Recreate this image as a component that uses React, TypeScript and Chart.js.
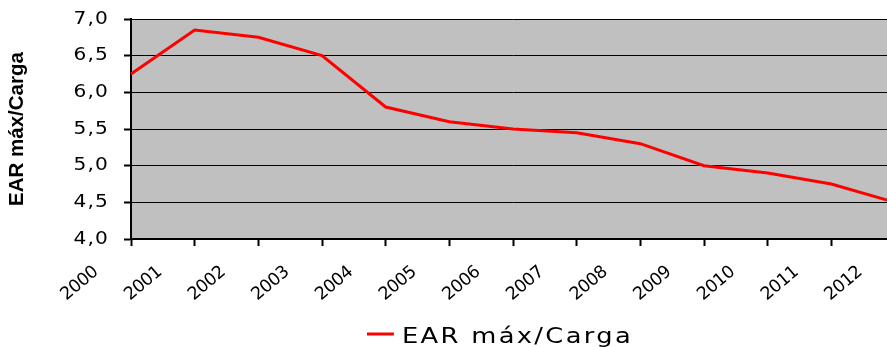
import React, { useEffect, useRef } from 'react';
import { Chart, registerables } from 'chart.js';

Chart.register(...registerables);

// Series data
const years = ['2000', '2001', '2002', '2003', '2004', '2005', '2006', '2007', '2008', '2009', '2010', '2011', '2012'];
const earMaxCarga = [6.25, 6.85, 6.75, 6.5, 5.8, 5.6, 5.5, 5.45, 5.3, 5.0, 4.9, 4.75, 4.5];
const seriesLabel = 'EAR máx/Carga';
const yAxisTitle = 'EAR máx/Carga';

// Value axis range
const yMin = 4;
const yMax = 7;
const yStep = 0.5;

const CANVAS_W = 910;
const CANVAS_H = 347;

// Grey plot area behind the line
const plotBackground = {
  id: 'plotBackground',
  beforeDraw(chart: any) {
    const { ctx, chartArea: a } = chart;
    ctx.save();
    ctx.fillStyle = '#C0C0C0';
    ctx.fillRect(a.left, a.top, a.right - a.left, a.bottom - a.top);
    ctx.restore();
  },
};

interface LabelStyle {
  spacing: string;
  stretch: number;
  dx: number;
  dy: number;
}

// Wrap a scale's label drawing: letter spacing, a horizontal stretch around
// the label anchor column, and a small shift away from the axis
function styleLabels(scale: any, style: LabelStyle, anchorX: () => number) {
  if (!scale || scale.__styled) return;
  const original = scale.drawLabels.bind(scale);
  scale.drawLabels = (...args: any[]) => {
    const ctx = scale.ctx;
    ctx.save();
    ctx.letterSpacing = style.spacing;
    const ax = anchorX();
    ctx.translate(ax + style.dx, style.dy);
    ctx.scale(style.stretch, 1);
    ctx.translate(-ax, 0);
    try {
      original(...args);
    } finally {
      ctx.restore();
    }
  };
  scale.__styled = true;
}

const textStyling = {
  id: 'textStyling',
  beforeDraw(chart: any) {
    const y = chart.scales.y;
    styleLabels(
      y,
      { spacing: '1px', stretch: 1.12, dx: -15, dy: 0 },
      () => y.right - y.options.grid.tickLength - y.options.ticks.padding
    );
    styleLabels(chart.scales.x, { spacing: '-0.5px', stretch: 1, dx: 0, dy: 16 }, () => 0);
  },
};

// Legend entry drawn under the axis labels
const seriesKey = {
  id: 'seriesKey',
  afterDraw(chart: any, _args: any, opts: any) {
    const ds = chart.data.datasets[0];
    const { ctx } = chart;
    ctx.save();
    ctx.font = '22px "DejaVu Sans"';
    ctx.letterSpacing = '2px';
    const textW = ctx.measureText(ds.label).width * opts.stretch;
    const swatch = 27;
    const gap = 8;
    const left = opts.centerX - (swatch + gap + textW) / 2;
    ctx.strokeStyle = ds.borderColor;
    ctx.lineWidth = 3;
    ctx.beginPath();
    ctx.moveTo(left, opts.lineY);
    ctx.lineTo(left + swatch, opts.lineY);
    ctx.stroke();
    ctx.fillStyle = '#000';
    ctx.textBaseline = 'alphabetic';
    ctx.textAlign = 'left';
    ctx.translate(left + swatch + gap, opts.baseline);
    ctx.scale(opts.stretch, 1);
    ctx.fillText(ds.label, 0, 0);
    ctx.restore();
  },
};

export default function App() {
  const canvasRef = useRef<HTMLCanvasElement | null>(null);

  useEffect(() => {
    const canvas = canvasRef.current;
    if (!canvas) return;
    const chart = new Chart(canvas, {
      type: 'line',
      data: {
        labels: years,
        datasets: [
          {
            label: seriesLabel,
            data: earMaxCarga,
            borderColor: '#FF0000',
            backgroundColor: '#FF0000',
            borderWidth: 3,
            pointRadius: 0,
            pointHoverRadius: 0,
            tension: 0,
            fill: false,
          },
        ],
      },
      options: {
        responsive: false,
        animation: false,
        devicePixelRatio: 1,
        layout: { padding: { top: 19, right: 15, bottom: 0, left: 0 } },
        plugins: {
          legend: { display: false },
          tooltip: { enabled: false },
          seriesKey: { centerX: 500, lineY: 334, baseline: 343, stretch: 1.17 },
        } as any,
        scales: {
          x: {
            type: 'category',
            offset: false,
            grid: {
              display: true,
              drawOnChartArea: false,
              drawTicks: true,
              tickLength: 7,
              tickWidth: 2,
              tickColor: '#000',
            },
            border: { display: true, color: '#000', width: 2 },
            ticks: {
              autoSkip: false,
              minRotation: 40,
              maxRotation: 40,
              padding: 0,
              labelOffset: -35,
              color: '#000',
              font: { family: '"DejaVu Sans"', size: 17.5 },
            },
            afterFit(scale: any) {
              scale.height = 108;
            },
          },
          y: {
            type: 'linear',
            min: yMin,
            max: yMax,
            grid: {
              display: true,
              color: '#000',
              lineWidth: 1,
              drawTicks: true,
              tickLength: 7,
              tickWidth: 2,
              tickColor: '#000',
            },
            border: { display: true, color: '#000', width: 2 },
            ticks: {
              stepSize: yStep,
              padding: 0,
              color: '#000',
              font: { family: '"DejaVu Sans"', size: 18 },
              callback: (v: any) => Number(v).toFixed(1).replace('.', ','),
            },
            title: {
              display: true,
              text: yAxisTitle,
              color: '#000',
              padding: { top: 5, bottom: 0 },
              font: { family: '"Liberation Sans"', size: 20.5, weight: 'bold' },
            },
            afterFit(scale: any) {
              scale.width = 131;
            },
          },
        },
      },
      plugins: [plotBackground, textStyling, seriesKey],
    });
    return () => chart.destroy();
  }, []);

  return (
    <div
      style={{
        position: 'fixed',
        left: 0,
        top: 0,
        width: 887,
        height: 347,
        overflow: 'hidden',
        background: '#fff',
      }}
    >
      <canvas
        ref={canvasRef}
        width={CANVAS_W}
        height={CANVAS_H}
        style={{ display: 'block', width: CANVAS_W, height: CANVAS_H }}
      />
    </div>
  );
}
